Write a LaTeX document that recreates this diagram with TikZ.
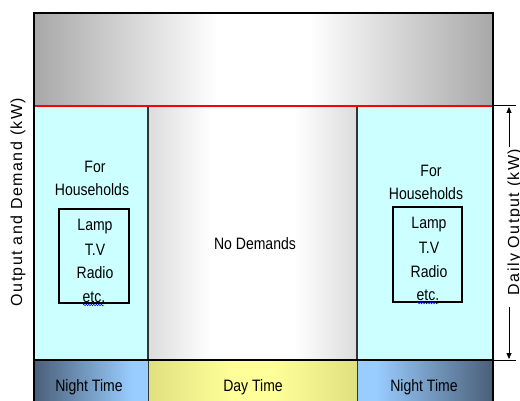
\documentclass[tikz,border=0pt]{standalone}
\usepackage{fontspec}
\setmainfont{Liberation Sans}
\newfontfamily\boxfont[FakeStretch=0.85]{Liberation Sans}
\newfontfamily\axisfont[LetterSpace=9]{Liberation Sans}
\usetikzlibrary{arrows.meta,decorations.pathmorphing}
\definecolor{topgray}{HTML}{A8A8A8}
\definecolor{midgray}{HTML}{DCDCDC}
\definecolor{cyanfill}{HTML}{CCFFFF}
\definecolor{cyanedge}{HTML}{333333}
\definecolor{nightdark}{HTML}{4A5F78}
\definecolor{nightlight}{HTML}{99CCFF}
\definecolor{dayedge}{HTML}{E0E080}
\definecolor{daymid}{HTML}{FFFF99}
\pgfdeclarehorizontalshading{topshade}{100bp}{color(0bp)=(topgray); color(25bp)=(topgray); color(45bp)=(white); color(55bp)=(white); color(75bp)=(topgray); color(100bp)=(topgray)}
\pgfdeclarehorizontalshading{midshade}{100bp}{color(0bp)=(midgray); color(25bp)=(midgray); color(40bp)=(white); color(60bp)=(white); color(75bp)=(midgray); color(100bp)=(midgray)}
\pgfdeclarehorizontalshading{dayshade}{100bp}{color(0bp)=(dayedge); color(25bp)=(dayedge); color(45bp)=(daymid); color(55bp)=(daymid); color(75bp)=(dayedge); color(100bp)=(dayedge)}
\pgfdeclarehorizontalshading{nightLshade}{100bp}{color(0bp)=(nightdark); color(25bp)=(nightdark); color(68bp)=(nightlight); color(100bp)=(nightlight)}
\pgfdeclarehorizontalshading{nightRshade}{100bp}{color(0bp)=(nightlight); color(32bp)=(nightlight); color(75bp)=(nightdark); color(100bp)=(nightdark)}
\tikzset{
  region/.style={inner sep=0pt, outer sep=0pt, anchor=north west},
  demandbox/.style={region, fill=cyanfill, draw=cyanedge, line width=1.2pt},
  itembox/.style={region, draw=black, line width=1.2pt},
  boxtext/.style={font=\boxfont\fontsize{16.5}{19}\selectfont, inner sep=0pt},
  axislabel/.style={font=\axisfont\fontsize{16}{19}\selectfont, rotate=90, inner sep=0pt},
  tickline/.style={line width=1pt, black},
  dimarrow/.style={line width=0.8pt, black, -{Triangle[length=6pt,width=5pt]}},
  squiggle/.style={blue, line width=0.5pt, decorate, decoration={snake, amplitude=0.7pt, segment length=2.5pt}}
}
\begin{document}
\begin{tikzpicture}[x=1pt,y=-1pt]
\useasboundingbox (0,0) rectangle (520,401);
% top band
\node[region, minimum width=459pt, minimum height=93pt, shading=topshade] (top) at (34,13) {};
% middle region
\node[region, minimum width=209pt, minimum height=254pt, shading=midshade] (mid) at (148,106) {};
% cyan household regions
\node[demandbox, minimum width=114pt, minimum height=254pt] (lefthh) at (34,106) {};
\node[demandbox, minimum width=136pt, minimum height=254pt] (righthh) at (357,106) {};
% red line
\draw[red, line width=2pt] (top.south west) -- (top.south east);
% bottom row
\node[region, minimum width=114pt, minimum height=45pt, shading=nightLshade] (nightL) at (34,360) {};
\node[region, minimum width=209pt, minimum height=45pt, shading=dayshade] (day) at (148,360) {};
\node[region, minimum width=136pt, minimum height=45pt, shading=nightRshade] (nightR) at (357,360) {};
\draw[cyanedge, line width=0.8pt] (nightL.north east) -- (nightL.south east);
\draw[cyanedge, line width=0.8pt] (nightR.north west) -- (nightR.south west);
% thick separating line
\draw[black, line width=2.5pt] (nightL.north west) -- (nightR.north east);
% outer border
\draw[black, line width=2pt] (34,405) -- (top.north west) -- (top.north east) -- (493,405);
% inner item boxes
\node[itembox, minimum width=70pt, minimum height=94pt] (itemsL) at (59,209) {};
\node[itembox, minimum width=69pt, minimum height=95pt] (itemsR) at (393,207) {};
% texts
\node[boxtext] (forL) at (95,167) {For};
\node[boxtext] (hhL) at (92,190) {Households};
\node[boxtext] (lampL) at (95,227) {Lamp};
\node[boxtext] (tvL) at (95,250) {T.V};
\node[boxtext] (radioL) at (95,273) {Radio};
\node[boxtext] (etcL) at (94,297) {etc.};
\node[boxtext] (forR) at (431,171) {For};
\node[boxtext] (hhR) at (426,194) {Households};
\node[boxtext] (lampR) at (429,225) {Lamp};
\node[boxtext] (tvR) at (429,248) {T.V};
\node[boxtext] (radioR) at (429,272) {Radio};
\node[boxtext] (etcR) at (428,295) {etc.};
\draw[squiggle] (83,305) -- (104,305);
\draw[squiggle] (417,303) -- (438,303);
\node[boxtext] (nodem) at (255,244) {No Demands};
\node[boxtext] (nightLt) at (89,387) {Night Time};
\node[boxtext] (dayt) at (253,387) {Day Time};
\node[boxtext] (nightRt) at (424,387) {Night Time};
% axis labels
\node[axislabel] (ylab) at (18,202) {Output and Demand (kW)};
\node[axislabel, anchor=base] (dlab) at (519,222) {Daily Output (kW)};
% dimension ticks and arrows
\coordinate (tickT) at (516,106);
\coordinate (tickB) at (516,360);
\coordinate (arrT0) at (509,147);
\coordinate (arrT1) at (509,107);
\coordinate (arrB0) at (509,307);
\coordinate (arrB1) at (509,359);
\draw[tickline] (righthh.north east) -- (tickT);
\draw[tickline] (righthh.south east) -- (tickB);
\draw[dimarrow] (arrT0) -- (arrT1);
\draw[dimarrow] (arrB0) -- (arrB1);
\end{tikzpicture}
\end{document}
